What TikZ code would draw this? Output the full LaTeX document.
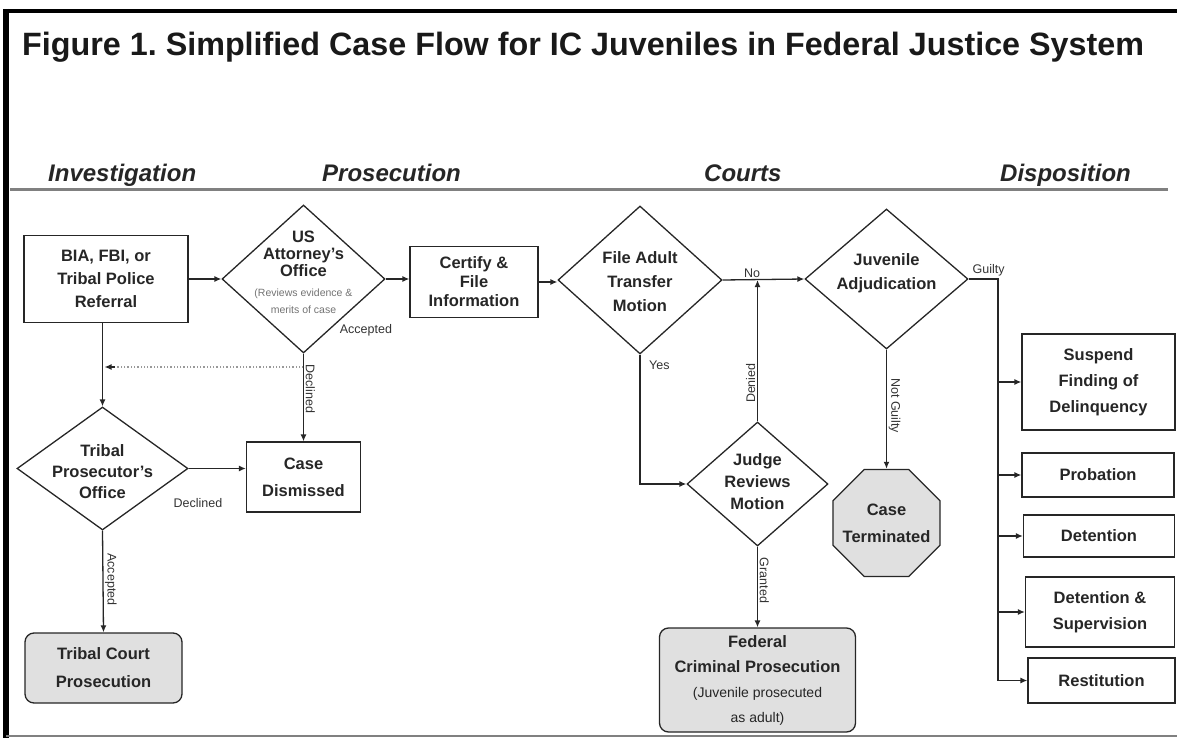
\documentclass[tikz,border=0pt]{standalone}
\usepackage{fontspec}
\setmainfont{Liberation Sans}
\usetikzlibrary{shapes.geometric,arrows.meta,calc}
\frenchspacing
\newcommand\revtxt{\fontsize{10.5}{11.5}\selectfont\mdseries\color{black!55}}
\newcommand\partxt{\fontsize{14}{24}\selectfont\mdseries}
\begin{document}
\begin{tikzpicture}[x=1pt,y=-1pt,
  line/.style={draw=black!85, line width=1.3pt},
  arr/.style={line, -{Latex[length=7pt,width=6pt]}},
  txt/.style={font=\fontsize{16.5}{#1}\selectfont\bfseries},
  txt/.default=22,
  box/.style={draw=black!85, line width=1.3pt, rectangle, inner sep=0pt, align=center, text=black!85},
  gbox/.style={box, rounded corners=9pt, fill=black!12},
  dia/.style={draw=black!85, line width=1.3pt, diamond, inner sep=0pt},
  dtext/.style={align=center, inner sep=0pt, text=black!85, txt=#1},
  lab/.style={font=\fontsize{12.5}{14}\selectfont, text=black!80, inner sep=1.5pt},
  phase/.style={font=\fontsize{24}{28}\selectfont\bfseries\itshape, text=black!85, inner sep=0pt, anchor=base west},
]
\useasboundingbox (0,0) rectangle (1177,738);
% frame
\draw[line width=6pt] (6,9) -- (6,738);
\draw[line width=4pt] (3,11) -- (1177,11);
\draw[black!50, line width=2pt] (6,736) -- (1177,736);
% title
\node[anchor=base west, inner sep=0pt, font=\fontsize{32.3}{38}\selectfont\bfseries, text=black!90] (title) at (22,56) {Figure 1. Simplified Case Flow for IC Juveniles in Federal Justice System};
% phases
\node[phase] (p1) at (48,182) {Investigation};
\node[phase] (p2) at (322,182) {Prosecution};
\node[phase] (p3) at (704,182) {Courts};
\node[phase] (p4) at (1000,182) {Disposition};
\draw[black!50, line width=3pt] (10,190) -- (1168,190);

% nodes
\node[box, txt=23, minimum width=164pt, minimum height=87pt] (bia) at (106,279) {BIA, FBI, or\\Tribal Police\\Referral};
\node[dia, minimum width=163pt, minimum height=148pt,
  label={[dtext=17, yshift=7pt]center:{US\\Attorney's\\Office\\[3pt]{\revtxt (Reviews evidence \&}\\{\revtxt merits of case}}}] (att) at (303.5,279) {};
\node[box, txt=19, minimum width=128pt, minimum height=71pt] (cert) at (474,282) {Certify \&\\File\\Information};
\node[dia, minimum width=164pt, minimum height=148pt,
  label={[dtext=24, yshift=-2pt]center:{File Adult\\Transfer\\Motion}}] (fat) at (640,280) {};
\node[dia, minimum width=163pt, minimum height=140pt,
  label={[dtext=24, yshift=6pt]center:{Juvenile\\Adjudication}}] (juv) at (886.5,279) {};
\node[dia, minimum width=141pt, minimum height=124pt,
  label={[dtext=22, yshift=2pt]center:{Judge\\Reviews\\Motion}}] (judge) at (757.5,484) {};
\node[gbox, txt=25, minimum width=196pt, minimum height=104pt] (fed) at (757.5,680) {Federal\\Criminal Prosecution\\{\partxt (Juvenile prosecuted}\\{\partxt as adult)}};
\node[draw=black!85, line width=1.3pt, regular polygon, regular polygon sides=8, minimum size=116pt, inner sep=0pt, fill=black!12,
  label={[dtext=27]center:{Case\\Terminated}}] (term) at (886.5,523) {};
% disposition boxes
\node[box, txt=26, minimum width=153pt, minimum height=96pt] (susp) at (1098.5,382) {Suspend\\Finding of\\Delinquency};
\node[box, txt, minimum width=152pt, minimum height=44pt] (prob) at (1098,475) {Probation};
\node[box, txt, minimum width=151pt, minimum height=42pt] (det) at (1099,536) {Detention};
\node[box, txt=26, minimum width=149pt, minimum height=70pt] (dsup) at (1100,612) {Detention \&\\Supervision};
\node[box, txt, minimum width=147pt, minimum height=45pt] (rest) at (1101.5,680.5) {Restitution};
% left column
\node[dia, minimum width=171pt, minimum height=123pt,
  label={[dtext=21, yshift=-3pt]center:{Tribal\\Prosecutor's\\Office}}] (trib) at (102.5,468.5) {};
\node[box, txt=27, minimum width=114pt, minimum height=70pt] (dism) at (303.5,477) {Case\\Dismissed};
\node[gbox, txt=28, minimum width=157pt, minimum height=70pt] (tcourt) at (103.5,668) {Tribal Court\\Prosecution};

% connectors
\coordinate (dotc) at (0,367);
\coordinate (gx) at (998,0);
\draw[arr] (bia.east) -- (bia.east -| att.west);
\draw[arr] (att.east) -- (att.east -| cert.west);
\node[lab, anchor=north east] (acc1) at ($(att.east)+(8,44)$) {Accepted};
\draw[arr] (cert.east) -- (cert.east -| fat.west);
\draw[arr] (fat.east) -- node[lab, pos=0.36, above] (no) {No} (juv.west);
\draw[arr] (fat.south) |- node[lab, pos=0.04, anchor=west, xshift=7pt] (yes) {Yes} (judge.west);
\draw[arr] (judge.north) -- node[lab, pos=0.27, rotate=90, anchor=south] (den) {Denied} (judge.north |- fat.east);
\draw[arr] (judge.south) -- node[lab, pos=0.42, rotate=-90, anchor=south] (gra) {Granted} (fed.north);
\draw[arr] (juv.south) -- node[lab, pos=0.47, rotate=-90, anchor=south] (ng) {Not Guilty} (term.north);
\draw[arr] (juv.east) -| (gx |- rest.west) -- (rest.west);
\node[lab, anchor=south] (guilty) at ($(juv.east)+(20,-1)$) {Guilty};
\draw[arr] (gx |- susp.west) -- (susp.west);
\draw[arr] (gx |- prob.west) -- (prob.west);
\draw[arr] (gx |- det.west) -- (det.west);
\draw[arr] (gx |- dsup.west) -- (dsup.west);
\draw[arr] (trib.north |- bia.south) -- (trib.north);
\draw[black!40, line width=1.3pt, dotted] (att.south |- dotc) -- ($(trib.north |- dotc)+(6,0)$);
\draw[black!85, -{Latex[length=7pt,width=6pt]}, line width=1.3pt] ($(trib.north |- dotc)+(12,0)$) -- ($(trib.north |- dotc)+(2,0)$);
\draw[arr] (att.south) -- node[lab, pos=0.4, rotate=-90, anchor=south] (dec1) {Declined} (dism.north);
\draw[arr] (trib.east) -- (trib.east -| dism.west);
\node[lab] (dec2) at (198,503) {Declined};
\draw[arr] (trib.south) -- node[lab, pos=0.48, rotate=-90, anchor=south] (acc2) {Accepted} (tcourt.north);
\end{tikzpicture}
\end{document}
